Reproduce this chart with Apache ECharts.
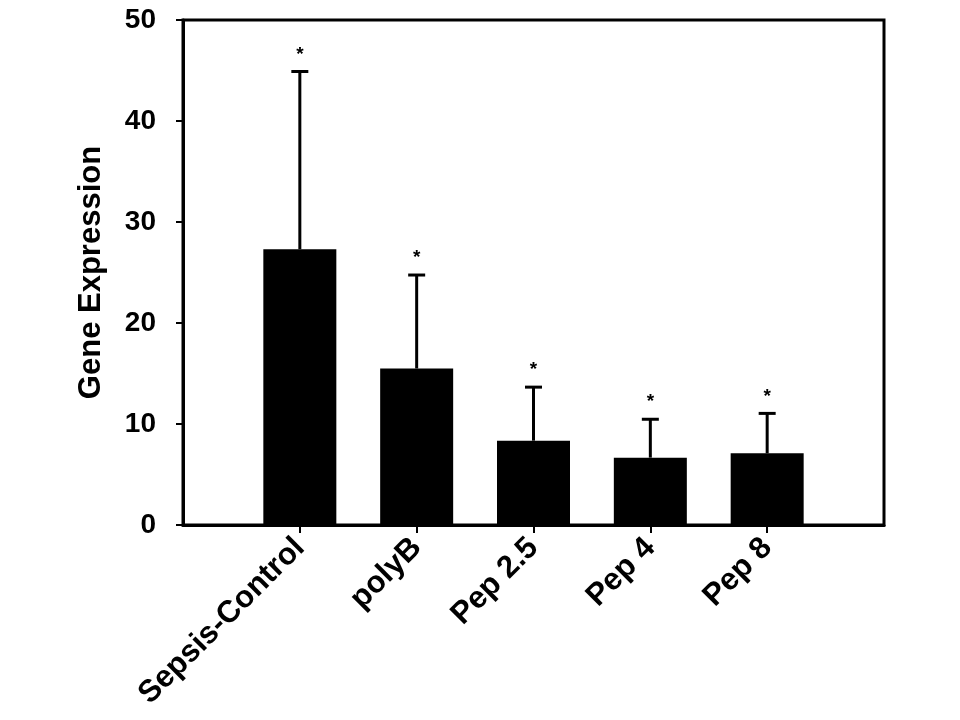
<!DOCTYPE html>
<html>
<head>
<meta charset="utf-8">
<script src="https://cdn.jsdelivr.net/npm/echarts@6/dist/echarts.min.js"></script>
<style>html,body{margin:0;padding:0;background:#fff}#c{width:960px;height:720px}</style>
</head>
<body>
<div id="c"></div>
<script>
const categories = ['Sepsis-Control', 'polyB', 'Pep 2.5', 'Pep 4', 'Pep 8'];
const means = [27.3, 15.5, 8.35, 6.67, 7.1];
const errors = [17.6, 9.25, 5.3, 3.8, 3.95];
const significance = ['*', '*', '*', '*', '*'];
const yTicks = [0, 10, 20, 30, 40, 50];

const FONT = '"Liberation Sans", Arial, sans-serif';
const chart = echarts.init(document.getElementById('c'), null, {renderer: 'canvas'});

const positions = categories.map((c, i) => i);

chart.setOption({
  animation: false,
  backgroundColor: '#fff',
  grid: {left: 183, right: 76, top: 20, bottom: 195, show: true, borderColor: '#000', borderWidth: 3, backgroundColor: 'transparent'},
  xAxis: {
    type: 'value', min: -1, max: 5, interval: 1,
    splitLine: {show: false},
    axisLine: {show: true, onZero: false, lineStyle: {color: '#000', width: 3}},
    axisTick: {show: true, customValues: positions, length: 8, inside: false, lineStyle: {color: '#000', width: 2}},
    axisLabel: {
      show: true, customValues: positions, rotate: 45, margin: 18,
      formatter: v => categories[Math.round(v)] || '',
      color: '#000', fontFamily: FONT, fontWeight: 'bold', fontSize: 31
    }
  },
  yAxis: {
    type: 'value', min: yTicks[0], max: yTicks[yTicks.length - 1], interval: 10,
    name: 'Gene Expression', nameLocation: 'middle', nameGap: 76, nameRotate: 90,
    nameTextStyle: {color: '#000', fontFamily: FONT, fontWeight: 'bold', fontSize: 31},
    splitLine: {show: false},
    axisLine: {show: true, onZero: false, lineStyle: {color: '#000', width: 3}},
    axisTick: {show: true, length: 7, lineStyle: {color: '#000', width: 2}},
    axisLabel: {color: '#000', fontFamily: FONT, fontWeight: 'bold', fontSize: 28, margin: 27}
  },
  series: [
    {
      type: 'bar',
      data: means.map((m, i) => [positions[i], m]),
      barWidth: 73,
      itemStyle: {color: '#000'},
      z: 2
    },
    {
      type: 'custom',
      z: 3,
      data: means.map((m, i) => [positions[i], m, m + errors[i]]),
      renderItem: function (params, api) {
        const x = api.value(0);
        const p0 = api.coord([x, api.value(1)]);
        const p1 = api.coord([x, api.value(2)]);
        const half = 8.5;
        const idx = params.dataIndex;
        return {
          type: 'group',
          children: [
            {type: 'line', shape: {x1: p0[0], y1: p0[1], x2: p1[0], y2: p1[1]}, style: {stroke: '#000', lineWidth: 3}},
            {type: 'line', shape: {x1: p1[0] - half, y1: p1[1], x2: p1[0] + half, y2: p1[1]}, style: {stroke: '#000', lineWidth: 3}},
            {type: 'text', x: p1[0], y: p1[1] - 17, style: {text: significance[idx], fill: '#000', font: 'bold 19px ' + FONT, align: 'center', verticalAlign: 'middle'}}
          ]
        };
      }
    }
  ]
});
</script>
</body>
</html>
